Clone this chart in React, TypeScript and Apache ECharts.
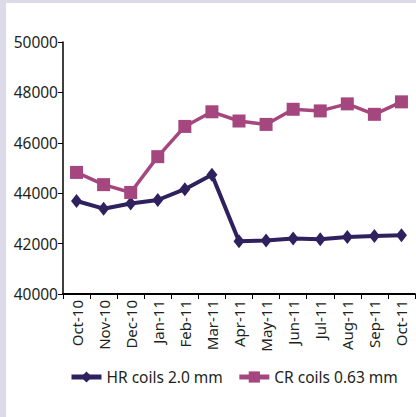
import React, { useEffect, useRef } from "react";
import * as echarts from "echarts";

const categories = ["Oct-10","Nov-10","Dec-10","Jan-11","Feb-11","Mar-11","Apr-11","May-11","Jun-11","Jul-11","Aug-11","Sep-11","Oct-11"];
const hrCoils = [43690, 43385, 43590, 43730, 44160, 44730, 42095, 42120, 42200, 42170, 42265, 42300, 42330];
const crCoils = [44825, 44340, 44030, 45450, 46650, 47230, 46865, 46730, 47330, 47265, 47545, 47130, 47625];
const seriesNames = ["HR coils 2.0 mm", "CR coils 0.63 mm"];

const HR_COLOR = "#2f205e";
const CR_COLOR = "#a5467f";
const FONT = "Noto Sans";

export default function App() {
  const ref = useRef<HTMLDivElement>(null);
  useEffect(() => {
    if (!ref.current) return;
    const chart = echarts.init(ref.current, undefined, { renderer: "svg" });
    chart.setOption({
      animation: false,
      backgroundColor: "#ffffff",
      textStyle: { fontFamily: FONT },
      grid: { left: 57, right: 1, top: 39, bottom: 123, containLabel: false },
      legend: {
        bottom: 27,
        left: 58,
        itemWidth: 30,
        itemHeight: 14,
        itemGap: 14,
        lineStyle: { width: 5 },
        textStyle: { fontSize: 15.5, color: "#231f20", fontFamily: FONT },
        data: seriesNames,
      },
      xAxis: {
        type: "category",
        data: categories,
        boundaryGap: true,
        axisLine: { lineStyle: { color: "#000", width: 2 } },
        axisTick: { show: true, length: 5, lineStyle: { color: "#000", width: 1 } },
        axisLabel: { rotate: 90, fontSize: 15, color: "#231f20", margin: 6, fontFamily: FONT, interval: 0 },
        splitLine: { show: false },
      },
      yAxis: {
        type: "value",
        min: 40000,
        max: 50000,
        interval: 2000,
        axisLine: { show: true, lineStyle: { color: "#000", width: 1.5 } },
        axisTick: { show: true, length: 5, lineStyle: { color: "#000", width: 1 } },
        axisLabel: { fontSize: 15.5, color: "#231f20", margin: 5, fontFamily: FONT, formatter: (v: number) => String(v) },
        splitLine: { show: false },
      },
      series: [
        {
          name: seriesNames[0],
          type: "line",
          data: hrCoils,
          symbol: "diamond",
          symbolSize: [11, 14],
          lineStyle: { color: HR_COLOR, width: 4 },
          itemStyle: { color: HR_COLOR },
          color: HR_COLOR,
        },
        {
          name: seriesNames[1],
          type: "line",
          data: crCoils,
          symbol: "rect",
          symbolSize: 13,
          lineStyle: { color: CR_COLOR, width: 3.5 },
          itemStyle: { color: CR_COLOR },
          color: CR_COLOR,
        },
      ],
    });
    return () => chart.dispose();
  }, []);
  return (
    <div style={{ position: "fixed", left: 0, top: 0, width: 416, height: 417, background: "#dddbea" }}>
      <div ref={ref} style={{ position: "absolute", left: 6, top: 3, width: 410, height: 414 }} />
    </div>
  );
}
